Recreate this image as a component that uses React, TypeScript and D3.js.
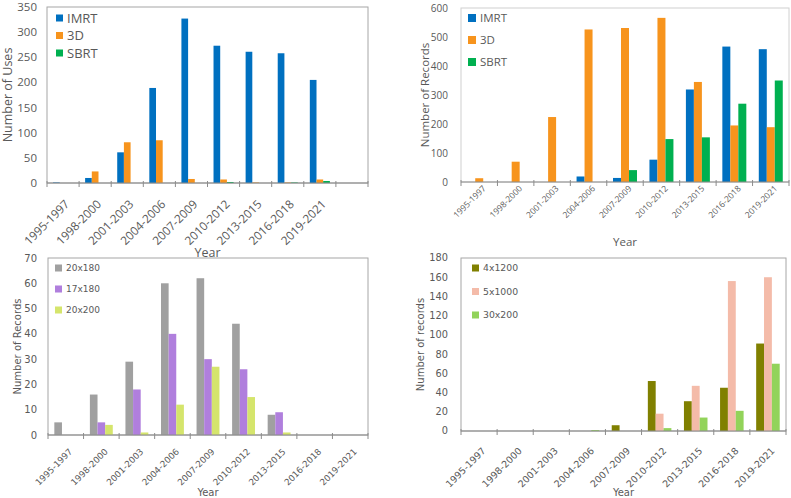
import * as d3 from 'd3';
import React from 'react';

// ---- data ----
const years = ['1995-1997', '1998-2000', '2001-2003', '2004-2006', '2007-2009', '2010-2012', '2013-2015', '2016-2018', '2019-2021'];
const yearsUses = [...years, ''];

const usesIMRT = [1, 10, 61, 189, 327, 273, 261, 258, 205, 0];
const uses3D = [0, 23, 81, 85, 8, 7, 1, 1, 7, 0];
const usesSBRT = [0, 0, 0, 0, 0, 2, 0, 1, 4, 0];

const recIMRT = [0, 0, 0, 19, 14, 77, 319, 467, 458];
const rec3D = [13, 70, 224, 526, 531, 566, 345, 195, 189];
const recSBRT = [0, 0, 0, 0, 41, 148, 154, 270, 350];

const f20x180 = [5, 16, 29, 60, 62, 44, 8, 0, 0];
const f17x180 = [0, 5, 18, 40, 30, 26, 9, 0, 0];
const f20x200 = [0, 4, 1, 12, 27, 15, 1, 0, 0];

const f4x1200 = [0, 0, 0, 0, 6, 52, 31, 45, 91];
const f5x1000 = [0, 0, 0, 0, 0, 18, 47, 156, 160];
const f30x200 = [0, 0, 0, 1, 0, 3, 14, 21, 70];

const ticksUses = [0, 50, 100, 150, 200, 250, 300, 350];
const ticksRec = [0, 100, 200, 300, 400, 500, 600];
const ticksFrac = [0, 10, 20, 30, 40, 50, 60, 70];
const ticksHypo = [0, 20, 40, 60, 80, 100, 120, 140, 160, 180];

type Series = { name: string; color: string; values: number[] };

interface PanelProps {
  cats: string[];
  series: Series[];
  ticks: number[];
  yTitle: string;
  left: number;
  right: number;
  top: number;
  bottom: number;
  font: string;
  tickSize: number;
  xLabelSize: number;
  titleSize: number;
  legendSize: number;
  yLabelGap: number;
  yTitleX: number;
  xTitleY: number;
  xLab: [number, number];
  legend: { x: number; y: number; step: number; sq: number };
  boxColor: string;
  pad: number;
}

const TXT = '#595959';

const Panel: React.FC<PanelProps> = (p) => {
  const x0 = d3.scaleBand<number>().domain(d3.range(p.cats.length)).range([p.left, p.right]).padding(0);
  const x1 = d3
    .scaleBand<string>()
    .domain(p.series.map((s) => s.name))
    .range([0, x0.bandwidth()])
    .paddingInner(0)
    .paddingOuter(p.pad);
  const y = d3
    .scaleLinear()
    .domain([0, p.ticks[p.ticks.length - 1]])
    .range([p.bottom, p.top]);
  const bounds = d3.range(p.cats.length + 1).map((i) => p.left + i * x0.step());
  const cx = (p.left + p.right) / 2;
  const cy = (p.top + p.bottom) / 2;

  return (
    <g fontFamily={p.font} fill={TXT}>
      <rect x={p.left} y={p.top} width={p.right - p.left} height={p.bottom - p.top} fill="none" stroke={p.boxColor} strokeWidth={1} />
      {p.series.map((s) =>
        s.values.map((v, i) =>
          v > 0 ? (
            <rect
              key={s.name + i}
              x={(x0(i) ?? 0) + (x1(s.name) ?? 0)}
              y={y(v)}
              width={x1.bandwidth()}
              height={p.bottom - y(v)}
              fill={s.color}
            />
          ) : null,
        ),
      )}
      <line x1={p.left} x2={p.right} y1={p.bottom} y2={p.bottom} stroke="#8c8c8c" strokeWidth={1.2} />
      {bounds.map((b, i) => (
        <line key={'t' + i} x1={b} x2={b} y1={p.bottom - 2} y2={p.bottom + 4} stroke="#8c8c8c" strokeWidth={1} />
      ))}
      {p.ticks.map((t) => (
        <text key={'y' + t} x={p.left - p.yLabelGap} y={y(t)} dy="0.35em" textAnchor="end" fontSize={p.tickSize}>
          {t}
        </text>
      ))}
      {p.cats.map((c, i) => (
        <text
          key={'x' + i}
          transform={`translate(${(x0(i) ?? 0) + x0.bandwidth() / 2 + p.xLab[0]},${p.bottom + p.xLab[1]}) rotate(-45)`}
          textAnchor="end"
          dy="0.35em"
          fontSize={p.xLabelSize}
        >
          {c}
        </text>
      ))}
      <text transform={`translate(${p.yTitleX},${cy}) rotate(-90)`} textAnchor="middle" dy="0.35em" fontSize={p.titleSize}>
        {p.yTitle}
      </text>
      <text x={cx} y={p.xTitleY} textAnchor="middle" fontSize={p.titleSize}>
        Year
      </text>
      {p.series.map((s, i) => (
        <g key={'l' + s.name} transform={`translate(${p.legend.x},${p.legend.y + i * p.legend.step})`}>
          <rect x={0} y={-p.legend.sq / 2} width={p.legend.sq} height={p.legend.sq} fill={s.color} />
          <text x={p.legend.sq + 4} y={0} dy="0.35em" fontSize={p.legendSize}>
            {s.name}
          </text>
        </g>
      ))}
    </g>
  );
};

const App: React.FC = () => {
  const sansA = '"Open Sans", sans-serif';
  const sansB = '"DejaVu Sans", Verdana, sans-serif';
  return (
    <svg width={791} height={498} style={{ position: 'absolute', left: 0, top: 0, background: '#fff' }}>
      <Panel
        cats={yearsUses}
        series={[
          { name: 'IMRT', color: '#0070C0', values: usesIMRT },
          { name: '3D', color: '#F7941D', values: uses3D },
          { name: 'SBRT', color: '#00B050', values: usesSBRT },
        ]}
        ticks={ticksUses}
        yTitle="Number of Uses"
        left={47}
        right={368}
        top={7}
        bottom={183}
        font={sansA}
        tickSize={11.5}
        xLabelSize={11.8}
        titleSize={12.5}
        legendSize={13}
        yLabelGap={10}
        yTitleX={8}
        xTitleY={257}
        xLab={[4, 19]}
        legend={{ x: 56, y: 18, step: 17.5, sq: 7 }}
        boxColor="#a6a6a6"
        pad={0.9}
      />
      <Panel
        cats={years}
        series={[
          { name: 'IMRT', color: '#0070C0', values: recIMRT },
          { name: '3D', color: '#F7941D', values: rec3D },
          { name: 'SBRT', color: '#00B050', values: recSBRT },
        ]}
        ticks={ticksRec}
        yTitle="Number of Records"
        left={461}
        right={789}
        top={8}
        bottom={182}
        font={sansA}
        tickSize={10}
        xLabelSize={8.5}
        titleSize={11.5}
        legendSize={11.5}
        yLabelGap={13}
        yTitleX={425}
        xTitleY={246}
        xLab={[5, 5]}
        legend={{ x: 468, y: 18, step: 22, sq: 8 }}
        boxColor="#d0d0d0"
        pad={0.78}
      />
      <Panel
        cats={years}
        series={[
          { name: '20x180', color: '#A0A0A0', values: f20x180 },
          { name: '17x180', color: '#B07FDD', values: f17x180 },
          { name: '20x200', color: '#D5E56C', values: f20x200 },
        ]}
        ticks={ticksFrac}
        yTitle="Number of Records"
        left={48}
        right={368}
        top={258}
        bottom={435}
        font={sansB}
        tickSize={10}
        xLabelSize={8.8}
        titleSize={10}
        legendSize={9}
        yLabelGap={11}
        yTitleX={17}
        xTitleY={496}
        xLab={[5, 15]}
        legend={{ x: 55, y: 268, step: 21, sq: 7 }}
        boxColor="#a6a6a6"
        pad={0.83}
      />
      <Panel
        cats={years}
        series={[
          { name: '4x1200', color: '#808000', values: f4x1200 },
          { name: '5x1000', color: '#F4BBA9', values: f5x1000 },
          { name: '30x200', color: '#92D35A', values: f30x200 },
        ]}
        ticks={ticksHypo}
        yTitle="Number of records"
        left={461}
        right={786}
        top={258}
        bottom={431}
        font={sansB}
        tickSize={9.8}
        xLabelSize={9.5}
        titleSize={10}
        legendSize={9.3}
        yLabelGap={13}
        yTitleX={420}
        xTitleY={496}
        xLab={[5, 18]}
        legend={{ x: 472, y: 268, step: 23.5, sq: 7 }}
        boxColor="#a6a6a6"
        pad={0.8}
      />
    </svg>
  );
};

export default App;
